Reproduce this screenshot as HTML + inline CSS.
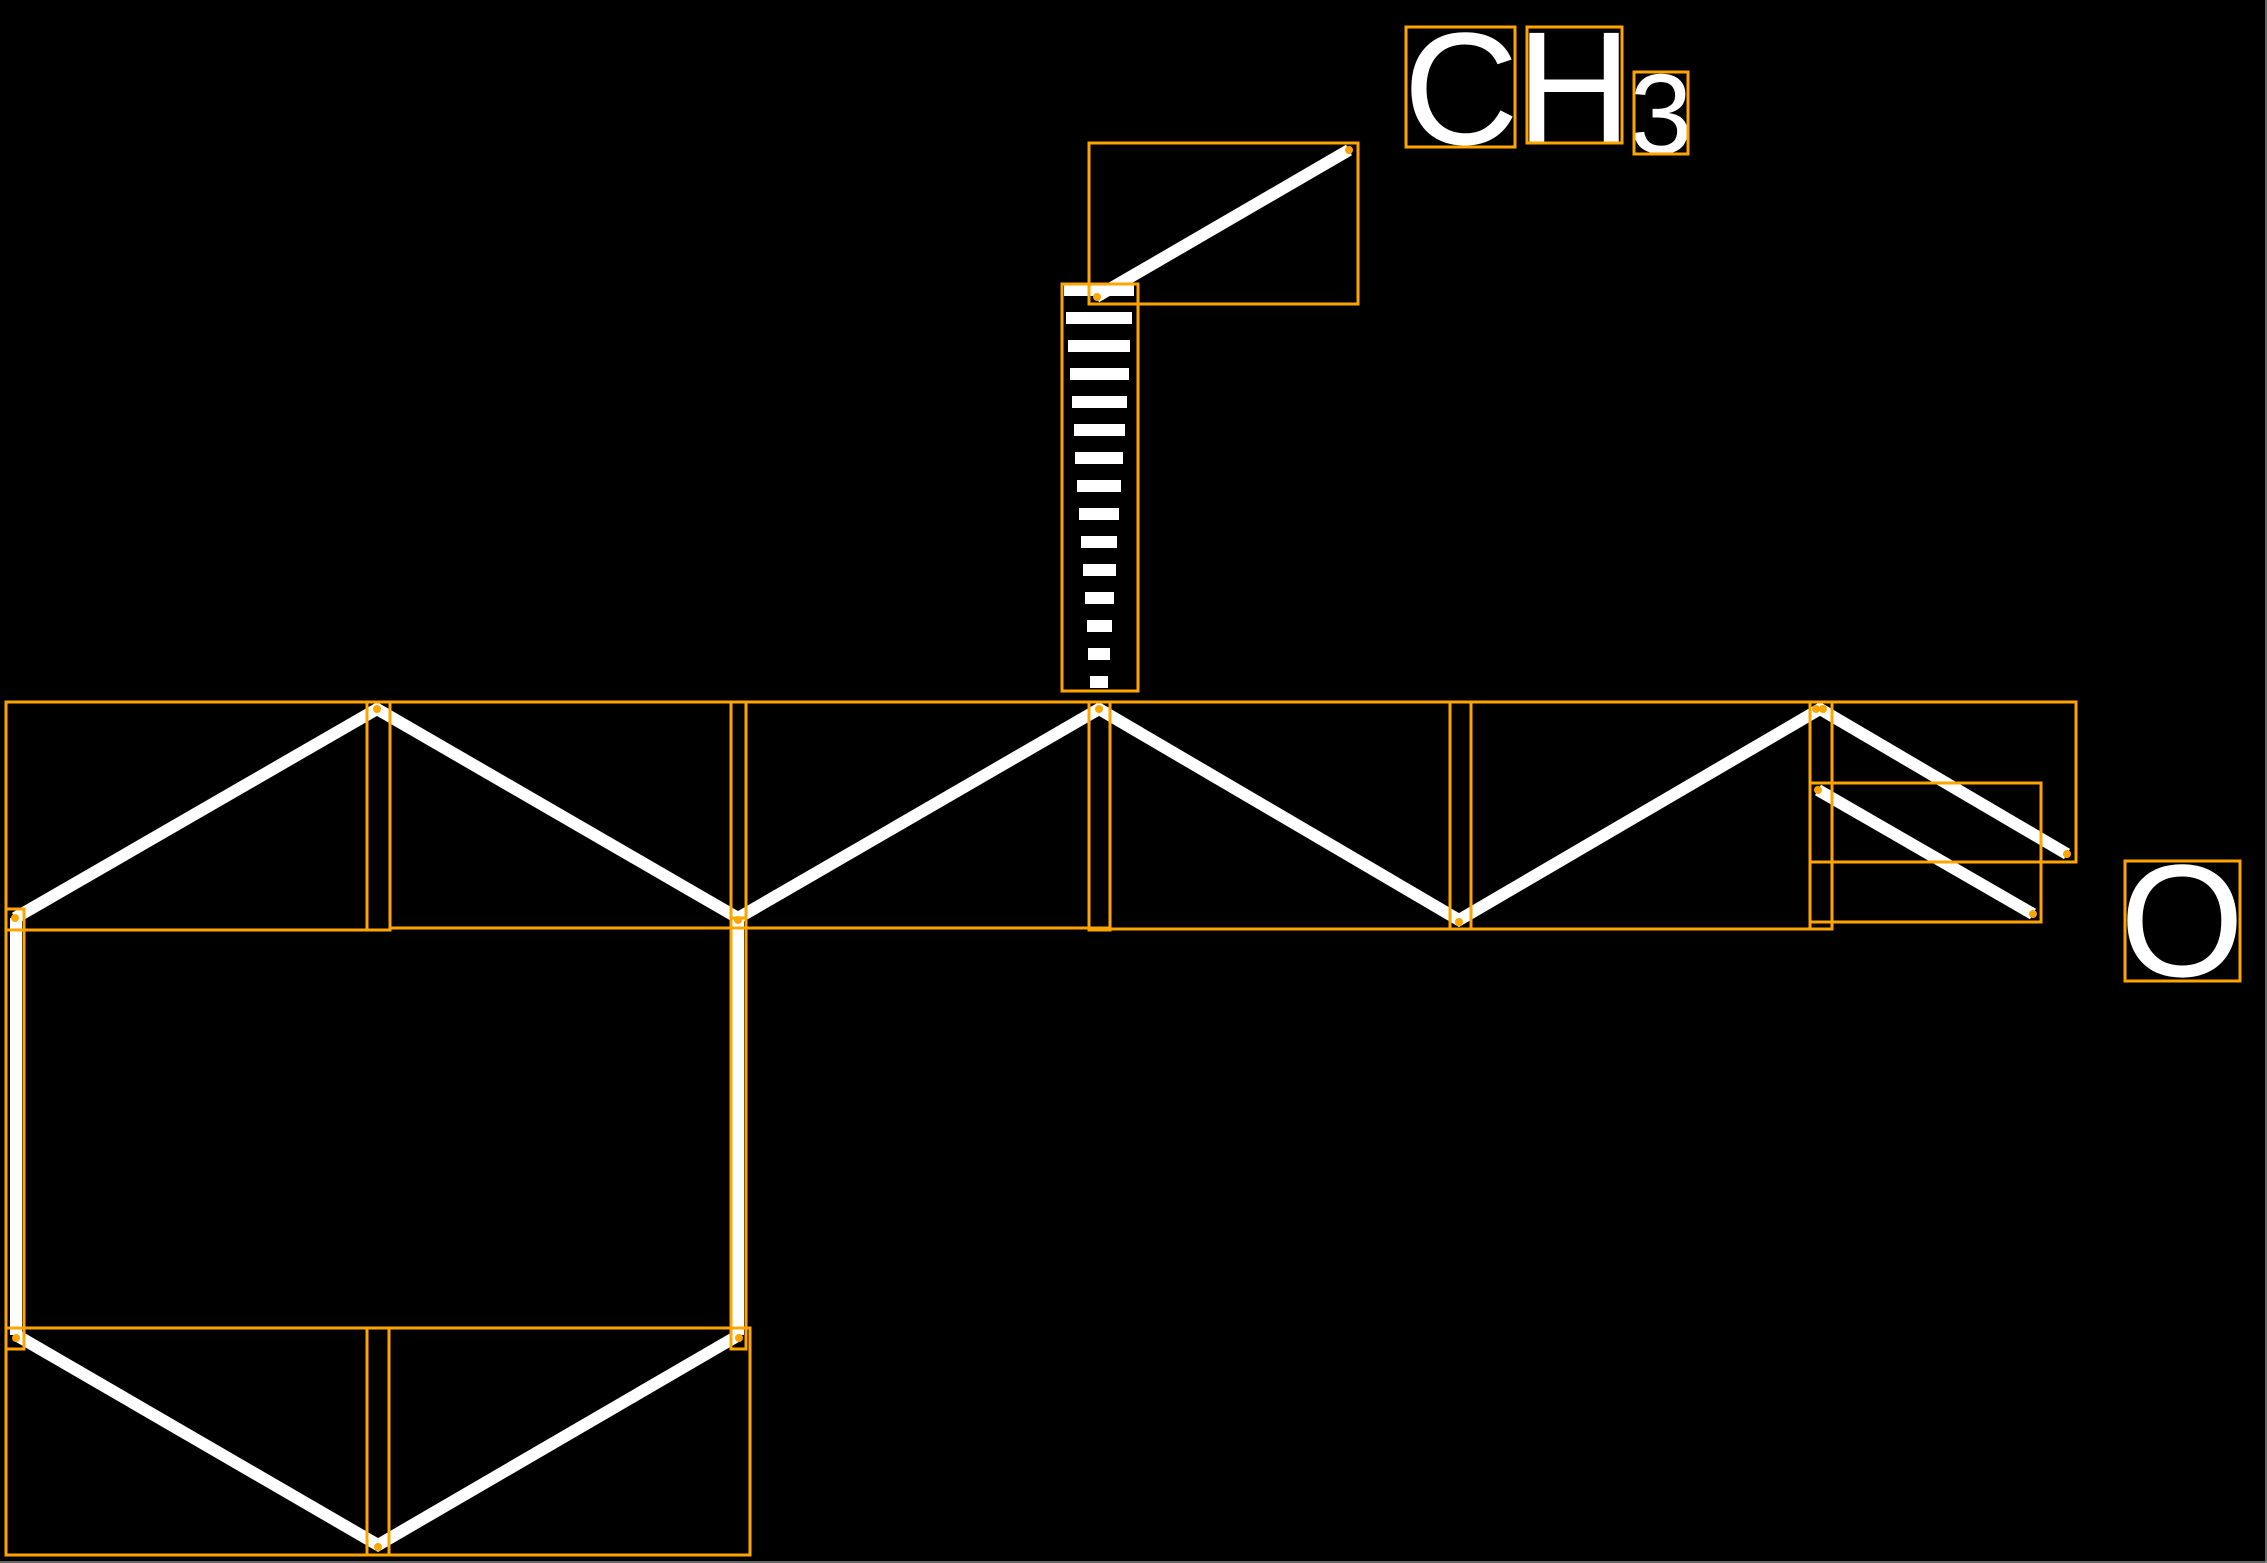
<!DOCTYPE html>
<html><head><meta charset="utf-8"><style>
html,body{margin:0;padding:0;background:#000;}
svg{display:block;}
text{font-family:"Liberation Sans",sans-serif;fill:#fff;}
</style></head><body>
<svg width="2267" height="1563" viewBox="0 0 2267 1563" xmlns="http://www.w3.org/2000/svg">
<rect width="2267" height="1563" fill="#000"/>
<line x1="2266" y1="0" x2="2266" y2="1563" stroke="#888" stroke-width="1.5"/>
<line x1="0" y1="1562" x2="2267" y2="1562" stroke="#888" stroke-width="1.5"/>
<g stroke="#fff" stroke-width="12" fill="none" stroke-linejoin="miter">
<polyline points="15,918 377,709 738,918 1099,709 1459,920 1820,709 2067,854"/>
<line x1="1818" y1="790" x2="2033" y2="914"/>
<line x1="1096" y1="297" x2="1349" y2="150"/>
<line x1="16" y1="918" x2="16" y2="1335"/>
<line x1="738" y1="918" x2="738" y2="1335"/>
<polyline points="16,1335 378,1545 739,1335"/>
</g>
<g fill="#fff">
<rect x="1064" y="284" width="70" height="12"/>
<rect x="1066" y="312" width="66" height="12"/>
<rect x="1068" y="340" width="62" height="12"/>
<rect x="1070" y="368" width="59" height="12"/>
<rect x="1072" y="396" width="55" height="12"/>
<rect x="1074" y="424" width="51" height="12"/>
<rect x="1075" y="452" width="48" height="12"/>
<rect x="1077" y="480" width="44" height="12"/>
<rect x="1079" y="508" width="40" height="12"/>
<rect x="1081" y="536" width="36" height="12"/>
<rect x="1083" y="564" width="33" height="12"/>
<rect x="1085" y="592" width="29" height="12"/>
<rect x="1087" y="620" width="25" height="12"/>
<rect x="1088" y="648" width="22" height="12"/>
<rect x="1090" y="676" width="18" height="12"/>
</g>
<text x="1461" y="144" font-size="160" text-anchor="middle">C</text>
<text x="1574" y="143" font-size="160" text-anchor="middle">H</text>
<text x="1661" y="153" font-size="113" text-anchor="middle">3</text>
<text x="2182" y="976" font-size="160" text-anchor="middle">O</text>
<g stroke="#FFA500" stroke-width="3" fill="none">
<rect x="1406" y="27" width="109" height="120"/>
<rect x="1527" y="27" width="95" height="116"/>
<rect x="1634" y="72" width="54" height="82"/>
<rect x="2125" y="861" width="115" height="120"/>
<rect x="1089" y="143" width="269" height="161"/>
<rect x="1062" y="284" width="76" height="407"/>
<rect x="6" y="702" width="384" height="228"/>
<rect x="367" y="702" width="23" height="228"/>
<rect x="390" y="702" width="356" height="226"/>
<rect x="731" y="702" width="15" height="226"/>
<rect x="746" y="702" width="364" height="226"/>
<rect x="1089" y="702" width="21" height="228"/>
<rect x="1110" y="702" width="722" height="227"/>
<rect x="1450" y="702" width="21" height="227"/>
<rect x="1810" y="702" width="22" height="227"/>
<rect x="1810" y="702" width="266" height="160"/>
<rect x="1810" y="783" width="231" height="139"/>
<rect x="6" y="909" width="18" height="440"/>
<rect x="731" y="918" width="15" height="431"/>
<rect x="6" y="1328" width="744" height="227"/>
<rect x="367" y="1328" width="22" height="227"/>
<rect x="6" y="1328" width="18" height="21"/>
<rect x="731" y="1328" width="15" height="21"/>
</g>
<g fill="#FFA500">
<circle cx="1097" cy="297" r="4"/>
<circle cx="1349" cy="150" r="4"/>
<circle cx="15" cy="918" r="4"/>
<circle cx="377" cy="709" r="4"/>
<circle cx="738" cy="920" r="4"/>
<circle cx="1099" cy="709" r="4"/>
<circle cx="1459" cy="922" r="4"/>
<circle cx="1816" cy="709" r="4"/>
<circle cx="1823" cy="709" r="4"/>
<circle cx="2067" cy="854" r="4"/>
<circle cx="1818" cy="790" r="4"/>
<circle cx="2033" cy="914" r="4"/>
<circle cx="16" cy="1338" r="4"/>
<circle cx="739" cy="1338" r="4"/>
<circle cx="378" cy="1547" r="4"/>
</g>
</svg>
</body></html>
